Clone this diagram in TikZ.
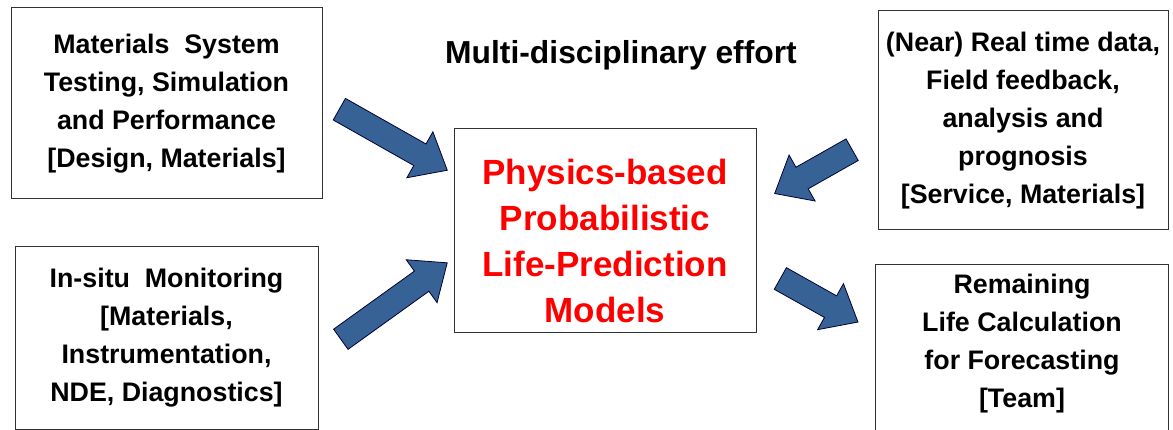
\documentclass[tikz,border=0pt]{standalone}
\usepackage{fontspec}
\setmainfont{Liberation Sans}
\usetikzlibrary{shapes.arrows}
\definecolor{arrowblue}{RGB}{54,98,150}
\definecolor{boxline}{RGB}{50,50,50}

\tikzset{
  boxtext/.style={inner sep=0pt,align=center,
    font=\fontsize{26.8}{38}\selectfont\bfseries},
  infobox/.style={boxtext,draw=boxline,line width=1pt},
  blockarr/.style={single arrow,draw=black!80!blue,fill=arrowblue,line width=0.8pt,
    inner sep=0pt,inner ysep=12pt,minimum width=0pt,
    single arrow head extend=14pt,single arrow tip angle=80,anchor=tail}
}

\begin{document}
\begin{tikzpicture}[x=1pt,y=-1pt]
\useasboundingbox (0,0) rectangle (1173,430);

% title
\node[font=\fontsize{31.8}{38}\selectfont\bfseries] (effort) at (621,55) {Multi-disciplinary effort};

% the four input/output boxes
\node[infobox,minimum width=311pt,minimum height=191pt] (design) at (166.5,103.5)
  {Materials\ \ System\\Testing, Simulation\\and Performance\\{}[Design, Materials]};
\node[infobox,minimum width=303pt,minimum height=182pt] (monitor) at (166.5,338)
  {In-situ\ \ Monitoring\\{}[Materials,\\Instrumentation,\\NDE, Diagnostics]};
\node[infobox,minimum width=290pt,minimum height=219pt] (service) at (1023,120.5)
  {(Near) Real time data,\\Field feedback,\\analysis and\\prognosis\\{}[Service, Materials]};
\node[infobox,minimum width=293pt,minimum height=180pt,anchor=north west] (teambox) at (875,264) {};
\node[boxtext] (team) at (1022,344)
  {Remaining\\Life Calculation\\for Forecasting\\{}[Team]};

% centre box
\node[draw=boxline,line width=1pt,minimum width=302pt,minimum height=204pt,inner sep=0pt] (modelbox) at (605,231) {};
\node[align=center,text=red,inner sep=0pt,font=\fontsize{35}{46}\selectfont\bfseries] (models) at (605,241)
  {Physics-based\\Probabilistic\\Life-Prediction\\Models};

% block arrows: tail x / tail y / angle / length
\foreach \x/\y/\a/\l [count=\i] in {339/109/-29.5/124, 340.5/339.5/35.7/131, 852.5/149.5/209.5/89, 780/278.3/-29.3/89}
{
	\node[blockarr,rotate=\a,minimum height=\l pt] (arr\i) at (\x,\y) {};
}

\end{tikzpicture}
\end{document}
